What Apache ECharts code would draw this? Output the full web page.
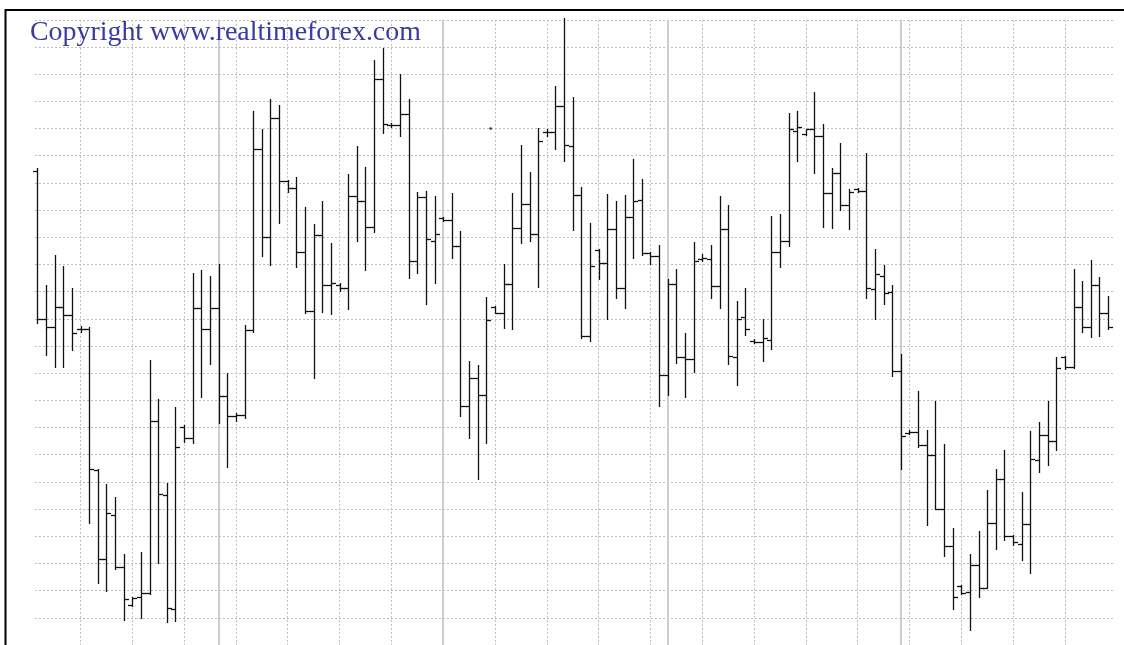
<!DOCTYPE html>
<html>
<head>
<meta charset="utf-8">
<title>realtimeforex bar chart</title>
<script src="https://cdn.jsdelivr.net/npm/echarts@6.0.0/dist/echarts.min.js"></script>
<style>
  html, body { margin: 0; padding: 0; background: #fff; }
  #main { width: 1124px; height: 645px; }
</style>
</head>
<body>
<div id="main"></div>
<script>
  // OHLC values, one entry per bar (price in pips, grid line every 10)
  var openVals = [
    164.4, 109.8, 107.1, 114.3, 111.3, 106.4, 106.4, 54.5, 21.8, 38.0,
    18.8, 4.8, 7.6, 9.3, 72.4, 45.2, 3.3, 70.2, 66.0, 114.0,
    106.1, 114.0, 81.7, 74.2, 74.7, 105.8, 172.3, 140.0, 183.7, 160.7,
    158.0, 134.5, 112.8, 140.8, 122.4, 122.4, 121.5, 155.3, 153.2, 143.8,
    198.1, 181.2, 181.2, 185.4, 131.2, 154.7, 138.5, 147.2, 146.5, 136.7,
    78.1, 88.1, 82.1, 114.3, 112.3, 122.8, 143.3, 152.4, 141.2, 178.6,
    178.9, 188.3, 173.4, 155.7, 103.5, 135.2, 130.5, 143.2, 121.3, 147.5,
    153.6, 134.2, 133.0, 89.2, 122.8, 96.0, 95.1, 131.9, 131.9, 122.1,
    143.2, 95.9, 110.6, 101.9, 101.4, 102.3, 134.5, 138.7, 179.1, 177.9,
    179.7, 177.4, 156.2, 163.7, 152.0, 157.7, 157.2, 120.9, 125.8, 120.0,
    90.8, 67.9, 68.4, 63.4, 60.0, 40.2, 26.3, 11.8, 9.6, 19.6,
    11.1, 34.7, 51.0, 30.2, 27.1, 34.6, 58.2, 67.2, 64.9, 95.9,
    92.2, 114.3, 107.1, 122.5, 112.1
  ];
  var highVals = [
    165.5, 122.5, 133.4, 129.3, 121.5, 107.4, 107.0, 54.9, 49.1, 44.3,
    23.6, 7.6, 24.2, 94.8, 80.5, 49.7, 77.5, 70.9, 126.7, 127.8,
    125.7, 130.2, 90.1, 75.4, 107.6, 186.4, 179.7, 191.0, 188.5, 161.0,
    162.2, 151.1, 145.0, 153.5, 137.8, 123.3, 163.2, 173.4, 165.8, 205.3,
    209.7, 182.1, 200.0, 191.0, 156.6, 157.2, 155.1, 147.5, 156.2, 142.3,
    94.4, 92.9, 118.0, 114.7, 130.0, 156.2, 173.8, 164.0, 180.1, 179.7,
    195.8, 220.5, 191.6, 158.4, 145.4, 135.7, 156.0, 153.2, 155.7, 168.7,
    161.4, 134.4, 137.2, 124.8, 128.2, 104.9, 138.2, 133.7, 137.2, 155.1,
    152.0, 116.4, 121.5, 102.6, 109.8, 147.7, 148.4, 185.8, 186.4, 179.8,
    193.3, 181.6, 165.6, 174.6, 157.7, 158.1, 171.1, 135.7, 129.7, 122.4,
    97.1, 69.1, 83.6, 69.1, 79.9, 63.9, 33.1, 12.1, 23.5, 32.0,
    47.0, 54.8, 61.9, 30.5, 46.2, 68.7, 72.0, 79.6, 95.9, 96.3,
    128.5, 124.0, 131.5, 125.5, 118.3
  ];
  var lowVals = [
    108.3, 96.6, 92.2, 92.2, 98.6, 105.3, 34.7, 12.9, 9.9, 17.8,
    -0.9, 4.5, -0.1, 8.8, 20.0, -1.6, -1.2, 64.6, 64.2, 81.4,
    93.4, 71.7, 55.5, 72.4, 73.6, 105.3, 133.0, 129.7, 145.3, 156.5,
    129.0, 112.1, 88.1, 112.5, 111.6, 120.3, 113.5, 138.5, 128.1, 142.1,
    178.3, 180.4, 177.4, 125.1, 127.0, 115.5, 123.3, 146.0, 132.2, 74.2,
    66.0, 51.2, 64.3, 112.1, 106.5, 106.1, 137.8, 138.5, 121.8, 177.4,
    172.6, 168.2, 142.7, 103.1, 102.0, 124.5, 110.1, 117.6, 114.0, 132.2,
    133.4, 130.0, 77.9, 81.8, 93.8, 81.4, 90.4, 131.3, 117.7, 114.0,
    93.4, 85.6, 104.1, 101.1, 94.4, 99.0, 129.0, 136.7, 167.9, 177.6,
    163.7, 143.9, 143.5, 149.9, 143.0, 156.5, 117.6, 110.1, 115.5, 88.9,
    54.9, 67.6, 62.7, 34.3, 39.9, 22.6, 3.1, 8.8, -4.6, 7.6,
    10.8, 25.3, 28.6, 26.8, 21.2, 16.6, 53.7, 56.4, 61.9, 91.6,
    91.9, 105.3, 103.4, 103.8, 106.1
  ];
  var closeVals = [
    109.8, 107.1, 114.3, 111.3, 104.6, 106.4, 54.9, 21.8, 38.4, 18.6,
    6.9, 7.3, 9.3, 72.4, 45.5, 3.6, 63.0, 66.0, 114.0, 106.1,
    114.0, 81.7, 74.4, 74.7, 105.8, 172.3, 140.0, 183.7, 160.7, 158.0,
    134.5, 112.8, 140.8, 122.4, 123.0, 121.5, 155.3, 153.2, 143.8, 198.1,
    181.5, 181.2, 185.4, 131.2, 154.7, 139.4, 141.2, 146.5, 136.7, 78.1,
    88.1, 82.1, 109.5, 112.3, 122.8, 143.3, 152.4, 141.2, 175.3, 178.9,
    188.3, 173.8, 155.7, 103.5, 129.3, 130.5, 143.2, 121.3, 147.5, 153.2,
    134.2, 133.0, 89.2, 122.8, 96.0, 95.1, 131.2, 132.2, 122.1, 143.2,
    96.3, 109.8, 106.4, 101.4, 102.8, 134.5, 138.7, 179.7, 180.4, 179.7,
    177.4, 156.2, 163.7, 152.0, 156.8, 157.2, 121.5, 126.6, 119.5, 90.8,
    66.9, 68.4, 63.7, 60.0, 40.2, 26.5, 7.8, 9.3, 19.6, 11.1,
    34.7, 51.0, 30.2, 27.8, 34.6, 58.5, 67.2, 64.9, 91.9, 92.2,
    114.3, 107.1, 122.5, 112.1, 107.1
  ];
  // bar positions of the solid session separators
  var sessionBreaks = [21, 47, 73, 100];
  // the lone print between two bars
  var strayPrint = [[52.5, 180]];

  var ohlc = openVals.map(function (o, i) {
    return [i, o, highVals[i], lowVals[i], closeVals[i]];
  });

  var myChart = echarts.init(document.getElementById('main'));

  function renderBar(params, api) {
    var x = api.value(0);
    var hi = api.coord([x, api.value(2)]);
    var lo = api.coord([x, api.value(3)]);
    var op = api.coord([x, api.value(1)]);
    var cl = api.coord([x, api.value(4)]);
    var px = Math.round(hi[0]) + 0.5;
    var style = {stroke: '#111', lineWidth: 1.3};
    return {
      type: 'group',
      children: [
        {type: 'line', shape: {x1: px, y1: Math.round(hi[1]), x2: px, y2: Math.round(lo[1]) + 1}, style: style},
        {type: 'line', shape: {x1: px - 4.5, y1: Math.round(op[1]) + 0.5, x2: px, y2: Math.round(op[1]) + 0.5}, style: style},
        {type: 'line', shape: {x1: px, y1: Math.round(cl[1]) + 0.5, x2: px + 4.5, y2: Math.round(cl[1]) + 0.5}, style: style}
      ]
    };
  }

  var option = {
    animation: false,
    backgroundColor: '#fff',
    title: {
      text: 'Copyright www.realtimeforex.com',
      left: 30,
      top: 19,
      padding: 0,
      textStyle: {
        fontFamily: 'Liberation Serif',
        fontSize: 27.9,
        fontWeight: 'normal',
        color: '#3a3aa0'
      }
    },
    graphic: [
      {
        type: 'rect',
        silent: true,
        z: 100,
        shape: {x: 5.5, y: 10, width: 1200, height: 700},
        style: {fill: 'none', stroke: '#000', lineWidth: 2}
      }
    ],
    grid: [
      {left: 35, top: 19.8, width: 1078, height: 634.8},
      // second grid only carries the vertical dotted lines (every 6 bars)
      {left: 28.67, top: 19.8, width: 1084.3, height: 634.8}
    ],
    xAxis: [
      {
        type: 'value',
        gridIndex: 0,
        min: -0.27,
        max: 124.57,
        show: false
      },
      {
        type: 'value',
        gridIndex: 1,
        min: -1,
        max: 124.57,
        interval: 6,
        axisLine: {show: false},
        axisTick: {show: false},
        axisLabel: {show: false},
        splitLine: {
          show: true,
          showMinLine: false,
          showMaxLine: false,
          lineStyle: {type: [2, 2], color: '#bdbdbd', width: 1}
        }
      }
    ],
    yAxis: [
      {
        type: 'value',
        gridIndex: 0,
        min: -10,
        max: 220,
        interval: 10,
        axisLine: {show: false},
        axisTick: {show: false},
        axisLabel: {show: false},
        splitLine: {
          show: true,
          lineStyle: {type: [2, 2], color: '#bdbdbd', width: 1}
        }
      },
      {
        type: 'value',
        gridIndex: 1,
        min: -10,
        max: 220,
        show: false
      }
    ],
    series: [
      {
        type: 'line',
        xAxisIndex: 0,
        yAxisIndex: 0,
        data: [],
        z: 1,
        markLine: {
          silent: true,
          symbol: 'none',
          label: {show: false},
          lineStyle: {type: 'solid', color: '#cdcdcd', width: 2},
          data: sessionBreaks.map(function (v) {
            return {xAxis: v};
          })
        }
      },
      {
        type: 'custom',
        xAxisIndex: 0,
        yAxisIndex: 0,
        renderItem: renderBar,
        encode: {x: 0, y: [1, 2, 3, 4]},
        data: ohlc,
        z: 5
      },
      {
        type: 'scatter',
        xAxisIndex: 0,
        yAxisIndex: 0,
        symbolSize: 2.5,
        itemStyle: {color: '#000'},
        data: strayPrint,
        z: 5
      }
    ]
  };

  myChart.setOption(option);
</script>
</body>
</html>
